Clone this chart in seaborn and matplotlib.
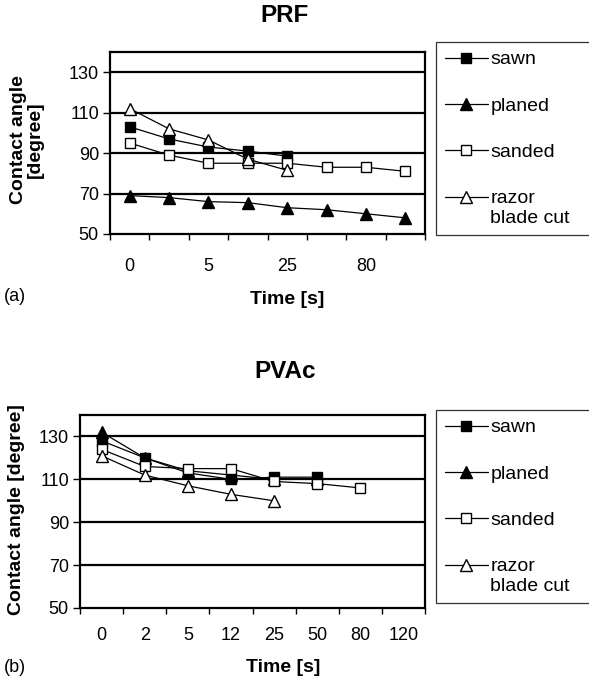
import numpy as np
import matplotlib
matplotlib.use("Agg")
import matplotlib.pyplot as plt
import seaborn as sns
from matplotlib.lines import Line2D
from matplotlib.legend_handler import HandlerLine2D

sns.set_theme(style="white")
plt.rcParams['font.family'] = ['Liberation Sans', 'DejaVu Sans']
plt.rcParams.update({"text.color": "black", "axes.labelcolor": "black",
                     "xtick.color": "black", "ytick.color": "black"})

# ---- data ----
time_labels = ["0", "2", "5", "12", "25", "50", "80", "120"]
prf_time_labels = ["0", "", "5", "", "25", "", "80", ""]

series_names = ["sawn", "planed", "sanded", "razor\nblade cut"]

prf_sawn = [103, 97, 93, 91, 88.5]
prf_planed = [69, 68, 66, 65.5, 63, 62, 60, 58]
prf_sanded = [95, 89, 85, 85, 85, 83, 83, 81]
prf_razor = [112, 102, 96.5, 87, 81.5]

pvac_sawn = [128, 120, 113, 110, 111, 111]
pvac_planed = [132, 120, 114, 112, 110, 110]
pvac_sanded = [124, 116, 115, 115, 109, 108, 106]
pvac_razor = [121, 112, 107, 103, 100]

y_ticks = [50, 70, 90, 110, 130]
grid_levels = [70, 90, 110, 130]

styles = {
    "sawn": dict(marker="s", mfc="black", ms=7.5),
    "planed": dict(marker="^", mfc="black", ms=8.5),
    "sanded": dict(marker="s", mfc="white", ms=7.5),
    "razor\nblade cut": dict(marker="^", mfc="white", ms=8.5),
}

W, H = 589, 686
fig = plt.figure(figsize=(W / 100, H / 100), dpi=100)


def px_axes(left, top, right, bottom):
    return fig.add_axes([left / W, 1 - bottom / H, (right - left) / W, (bottom - top) / H])


def draw_panel(ax, data, xlabels, xpad):
    for name, vals in zip(series_names, data):
        st = styles[name]
        x = np.arange(len(vals))
        sns.lineplot(x=x, y=vals, ax=ax, color="black", linewidth=0.9,
                     marker=st["marker"], markersize=st["ms"],
                     markerfacecolor=st["mfc"], markeredgecolor="black",
                     markeredgewidth=1.0, legend=False, zorder=3)
    for g in grid_levels:
        ax.axhline(g, color="black", linewidth=1.6, zorder=1)
    ax.set_xlim(-0.5, len(time_labels) - 0.5)
    ax.set_ylim(50, 140)
    ax.set_yticks(y_ticks)
    ax.set_yticklabels([str(v) for v in y_ticks], fontsize=13)
    ax.set_xticks(np.arange(len(time_labels)))
    ax.set_xticklabels(xlabels, fontsize=13)
    ax.set_xticks(np.arange(len(time_labels) + 1) - 0.5, minor=True)
    ax.tick_params(axis="x", which="major", length=0, pad=xpad)
    ax.tick_params(axis="x", which="minor", length=4, width=1.0, color="black", direction="out", bottom=True)
    ax.tick_params(axis="y", which="major", length=5, width=1.0, color="black", direction="out", left=True, pad=3)
    for s in ax.spines.values():
        s.set_color("black")
        s.set_linewidth(1.6)
    ax.set_xlabel("")
    ax.set_ylabel("")


class ShiftedHandler(HandlerLine2D):
    def __init__(self, dy, **kw):
        super().__init__(**kw)
        self.dy = dy

    def create_artists(self, legend, orig_handle, xdescent, ydescent, width, height, fontsize, trans):
        arts = super().create_artists(legend, orig_handle, xdescent, ydescent, width, height, fontsize, trans)
        for a in arts:
            a.set_ydata(np.asarray(a.get_ydata(), dtype=float) + self.dy)
        return arts


def add_legend(top, spacing, bpad):
    handles = []
    for name in series_names:
        st = styles[name]
        handles.append(Line2D([0], [0], color="black", linewidth=0.9, marker=st["marker"],
                              markersize=st["ms"], markerfacecolor=st["mfc"],
                              markeredgecolor="black", markeredgewidth=1.0))
    leg = fig.legend(handles, series_names, loc="upper left",
                     bbox_to_anchor=(436 / W, 1 - top / H, 170 / W, 0), mode="expand",
                     fontsize=14, frameon=True, fancybox=False, edgecolor="black",
                     handlelength=2.2, handletextpad=0.15, labelspacing=spacing,
                     borderpad=bpad, borderaxespad=0,
                     handler_map={handles[3]: ShiftedHandler(8.0)})
    leg.get_frame().set_linewidth(0.9)
    return leg


# ---- panel (a) PRF ----
ax1 = px_axes(110, 52, 425, 234)
draw_panel(ax1, [prf_sawn, prf_planed, prf_sanded, prf_razor], prf_time_labels, 17)
add_legend(42, 1.48, 0.45)
fig.text(285 / W, 1 - 16 / H, "PRF", ha="center", va="center", fontsize=17.5, fontweight="bold")
fig.text(287 / W, 1 - 299 / H, "Time [s]", ha="center", va="center", fontsize=14, fontweight="bold")
fig.text(27 / W, 1 - 140 / H, "Contact angle\n[degree]", ha="center", va="center",
         rotation=90, fontsize=14, fontweight="bold", linespacing=1.0)
fig.text(4 / W, 1 - 297 / H, "(a)", ha="left", va="center", fontsize=13)

# ---- panel (b) PVAc ----
ax2 = px_axes(80, 415, 425, 608)
draw_panel(ax2, [pvac_sawn, pvac_planed, pvac_sanded, pvac_razor], time_labels, 14)
add_legend(410, 1.48, 0.45)
fig.text(285 / W, 1 - 372 / H, "PVAc", ha="center", va="center", fontsize=17.5, fontweight="bold")
fig.text(283 / W, 1 - 668 / H, "Time [s]", ha="center", va="center", fontsize=14, fontweight="bold")
fig.text(17 / W, 1 - 510 / H, "Contact angle [degree]", ha="center", va="center",
         rotation=90, fontsize=14, fontweight="bold")
fig.text(4 / W, 1 - 668 / H, "(b)", ha="left", va="center", fontsize=13)

fig.savefig("out.png", dpi=100)
